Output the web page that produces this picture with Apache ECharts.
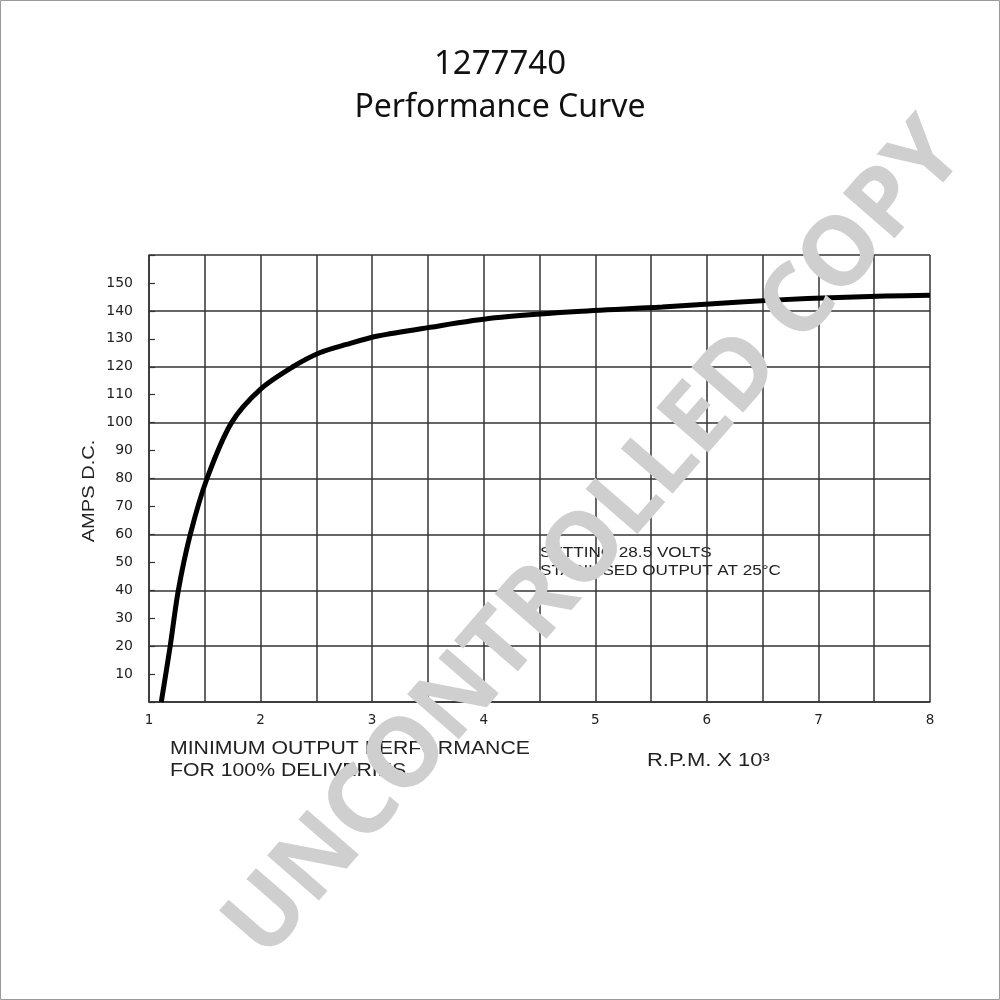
<!DOCTYPE html>
<html><head><meta charset="utf-8">
<script src="https://cdn.jsdelivr.net/npm/echarts@6/dist/echarts.min.js"></script>
<style>html,body{margin:0;padding:0;background:#fff}#c{width:1000px;height:1000px}</style>
</head><body><div id="c"></div>
<script>
const rpm = [1.11, 1.19, 1.263, 1.37, 1.52, 1.74, 2.0, 2.29, 2.53, 2.77, 3.05, 3.5, 4.1, 4.8, 5.6, 6.3, 6.9, 7.6, 8.0];
const amps = [0, 20, 40, 60, 80, 100, 112, 120, 125, 128, 131, 134, 137.5, 139.7, 141.4, 143.2, 144.4, 145.3, 145.6];
const xTickLabels = ['1','2','3','4','5','6','7','8'];
const yTickLabels = ['10','20','30','40','50','60','70','80','90','100','110','120','130','140','150'];

const chart = echarts.init(document.getElementById('c'), null, {renderer:'canvas'});
const gridColor = '#333';
const labelFont = 'DejaVu Sans';
function txt(x, y, s, size, sx, rot) {
  return {type:'text', x:x, y:y, scaleX:sx, rotation:rot||0,
    style:{text:s, font:size+'px "Liberation Sans"', fill:'#222', textAlign:'left', textVerticalAlign:'middle'}};
}
chart.setOption({
  animation:false,
  backgroundColor:'#fff',
  title:[
    {text:'1277740', left:'center', top:43, textStyle:{fontFamily:'Noto Sans', fontWeight:'normal', fontSize:33, color:'#111'}},
    {text:'Performance Curve', left:'center', top:87, textStyle:{fontFamily:'Noto Sans', fontWeight:'normal', fontSize:32, color:'#111'}}
  ],
  grid:{left:149, right:70, top:255, bottom:298, show:false},
  xAxis:{type:'value', min:1, max:8, interval:0.5,
    axisLine:{show:true, lineStyle:{color:gridColor, width:1.5}},
    axisTick:{show:false},
    splitLine:{show:true, lineStyle:{color:gridColor, width:1.5}},
    axisLabel:{margin:11, fontFamily:labelFont, fontSize:13.5, color:'#222',
      formatter:v=>{const i=xTickLabels.indexOf(String(v)); return i>=0?xTickLabels[i]:'';}}
  },
  yAxis:[
    {type:'value', min:0, max:160, interval:20,
      axisLine:{show:true, lineStyle:{color:gridColor, width:1.5}},
      axisTick:{show:false}, axisLabel:{show:false},
      splitLine:{show:true, lineStyle:{color:gridColor, width:1.5}}},
    {type:'value', min:0, max:160, interval:10, position:'left',
      axisLine:{show:false},
      axisTick:{show:true, inside:true, length:6, lineStyle:{color:gridColor, width:1.2}},
      splitLine:{show:false},
      axisLabel:{margin:16, fontFamily:labelFont, fontSize:14, color:'#222',
        formatter:v=>{const i=yTickLabels.indexOf(String(v)); return i>=0?yTickLabels[i]:'';}}}
  ],
  series:[{type:'line', data:rpm.map((x,i)=>[x,amps[i]]), smooth:0.3, symbol:'none',
    lineStyle:{color:'#000', width:5}, z:5}],
  graphic:[
    {type:'rect', shape:{x:0.5,y:0.5,width:999,height:999}, style:{fill:'none', stroke:'#999', lineWidth:1}, z:0},
    {type:'text', x:89, y:491, rotation:Math.PI/2, scaleX:1.18,
      style:{text:'AMPS D.C.', font:'17px "Liberation Sans"', fill:'#222', textAlign:'center', textVerticalAlign:'middle'}},
    txt(170, 749, 'MINIMUM OUTPUT PERFORMANCE', 18, 1.18),
    txt(170, 771, 'FOR 100% DELIVERIES', 18, 1.18),
    txt(647, 761, 'R.P.M. X 10³', 18, 1.22),
    txt(540, 553, 'SETTING 28.5 VOLTS', 15, 1.14),
    txt(540, 571, 'STABILISED OUTPUT AT 25°C', 15, 1.14),
    {type:'text', x:596, y:540, rotation:49*Math.PI/180, z:100,
      style:{text:'UNCONTROLLED COPY', font:'bold 96px "Noto Sans"', fill:'#cfcfcf', textAlign:'center', textVerticalAlign:'middle'}}
  ]
});
</script></body></html>
